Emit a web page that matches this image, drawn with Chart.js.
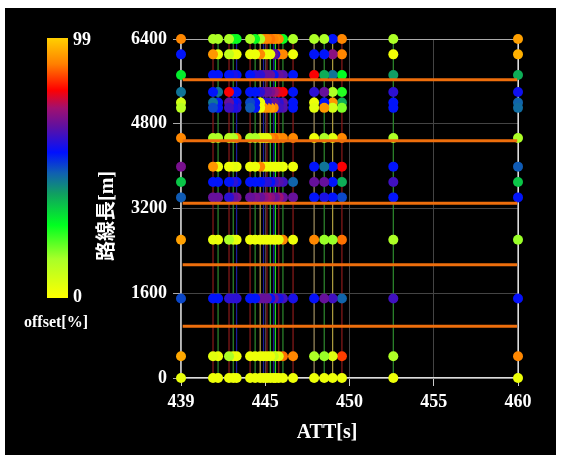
<!DOCTYPE html>
<html>
<head>
<meta charset="utf-8">
<script src="https://cdn.jsdelivr.net/npm/chart.js@4.4.1/dist/chart.umd.min.js"></script>
<style>
  html, body { margin: 0; padding: 0; background: #fff; }
  canvas { display: block; }
</style>
</head>
<body>
<canvas id="attChart" width="563" height="455"></canvas>
<script>
// ATT of each run (x), one vertical column per run
const attValues = [440.0, 441.9, 442.2, 442.85, 443.1, 443.3, 444.1, 444.4, 444.7, 444.9, 445.1,
  445.3, 445.5, 445.6, 445.8, 446.05, 446.65, 447.9, 448.5, 449.0, 449.55, 452.6, 460.0];
// route length of each measuring point (y)
const routeLengths = [6400, 6110, 5720, 5400, 5200, 5100, 4530, 3990, 3700, 3410, 2610, 1500, 410, 0];
// offset[%] per measuring point, one value per run
const off6400 = [90, 14, 14, 14, 27, 27, 14, 27, 14, 90, 90, 88, 90, 92, 90, 27, 14, 14, 14, 55, 90, 14, 93];
const off6110 = [55, 92, 3, 10, 3, 3, 3, 3, 90, 3, 3, 3, 66, 60, 90, 90, 3, 55, 55, 70, 90, 2, 95];
const off5720 = [30, 55, 55, 55, 58, 55, 55, 60, 60, 66, 66, 66, 55, 66, 66, 64, 55, 79, 38, 45, 28, 40, 38];
const off5400 = [45, 55, 45, 79, 55, 55, 55, 55, 60, 66, 66, 68, 72, 75, 78, 79, 55, 60, 66, 14, 25, 60, 57];
const off5200 = [8, 45, 55, 66, 55, 58, 50, 55, 3, 60, 60, 66, 66, 62, 60, 66, 55, 3, 55, 92, 38, 55, 47];
const off5100 = [12, 50, 55, 62, 58, 60, 48, 55, 3, 92, 92, 93, 90, 60, 62, 64, 55, 5, 92, 8, 18, 55, 46];
const off4530 = [90, 14, 14, 12, 14, 90, 14, 14, 5, 5, 5, 90, 88, 92, 90, 90, 90, 3, 14, 5, 90, 14, 14];
const off3990 = [68, 92, 3, 3, 5, 3, 3, 3, 90, 3, 3, 3, 3, 3, 5, 3, 3, 55, 45, 55, 79, 55, 48];
const off3700 = [35, 55, 55, 55, 60, 55, 55, 55, 55, 60, 60, 55, 62, 66, 64, 62, 47, 66, 66, 55, 38, 62, 35];
const off3410 = [48, 66, 66, 60, 66, 68, 66, 68, 66, 70, 72, 70, 66, 68, 72, 66, 66, 55, 58, 55, 50, 55, 55];
const off2610 = [93, 4, 3, 14, 5, 3, 3, 3, 3, 3, 3, 3, 3, 3, 5, 90, 3, 90, 16, 16, 88, 14, 16];
const off1500 = [50, 55, 55, 60, 60, 60, 55, 55, 66, 66, 66, 55, 66, 60, 58, 62, 58, 56, 66, 62, 47, 62, 56];
const off0410 = [94, 5, 3, 14, 3, 3, 3, 3, 3, 3, 3, 3, 10, 3, 5, 88, 90, 14, 16, 6, 84, 14, 90];
const off0000 = [4, 3, 3, 3, 3, 3, 3, 3, 3, 3, 3, 3, 3, 3, 3, 3, 3, 3, 3, 3, 3, 3, 3];
const offsetRows = [off6400, off6110, off5720, off5400, off5200, off5100, off4530,
  off3990, off3700, off3410, off2610, off1500, off0410, off0000];
// orange reference lines
const guideLengths = [5630, 4480, 3300, 2140, 975];
const guideStart = 440.1;
const guideEnd = 459.95;
const xTickLabels = ['439', '445', '450', '455', '460'];
const offsetMax = 99;

const lineColors = ['#bbbbbb', '#8b1a1a', '#2e8b2e', '#8b1a1a', '#2e8b2e', '#1a1a9b', '#8b1a1a', '#2e8b2e',
  '#b8a040', '#1a1a9b', '#8b1a1a', '#30c030', '#1a1a9b', '#20e020', '#8b1a1a', '#2e8b2e', '#8b1a1a',
  '#a09060', '#2e8b2e', '#b0a040', '#8b1a1a', '#2e8b2e', '#dddddd'];

// colour map, 0 = yellow ... 99 = yellow orange
const cmap = [[0, '#ffff00'], [0.15, '#a8ff28'], [0.28, '#00ff20'], [0.40, '#10a060'], [0.48, '#1060b0'],
  [0.56, '#0010ff'], [0.66, '#6010a0'], [0.73, '#a01070'], [0.80, '#ff0000'], [0.90, '#ff8000'], [1.0, '#ffd000']];

function hexRgb(h) {
  return [parseInt(h.substr(1, 2), 16), parseInt(h.substr(3, 2), 16), parseInt(h.substr(5, 2), 16)];
}
function offsetColor(v) {
  let t = Math.max(0, Math.min(1, v / offsetMax));
  for (let i = 1; i < cmap.length; i++) {
    if (t <= cmap[i][0]) {
      let a = cmap[i - 1], b = cmap[i];
      let f = (t - a[0]) / (b[0] - a[0]);
      let ca = hexRgb(a[1]), cb = hexRgb(b[1]);
      let c = ca.map((x, k) => Math.round(x + (cb[k] - x) * f));
      return 'rgb(' + c.join(',') + ')';
    }
  }
  return cmap[cmap.length - 1][1];
}

const datasets = [];
attValues.forEach((att, c) => {
  datasets.push({
    data: routeLengths.map(len => ({ x: att, y: len })),
    showLine: true,
    clip: false,
    borderColor: lineColors[c],
    borderWidth: 1.2,
    pointRadius: 5,
    pointHoverRadius: 5,
    pointBorderWidth: 0,
    pointBackgroundColor: offsetRows.map(row => offsetColor(row[c])),
    order: 2
  });
});
guideLengths.forEach(len => {
  datasets.push({
    data: [{ x: guideStart, y: len }, { x: guideEnd, y: len }],
    showLine: true,
    borderColor: '#ee6e0c',
    borderWidth: 3,
    pointRadius: 0,
    order: 1
  });
});

const tickFont = { family: "'Liberation Serif', serif", size: 18, weight: 'bold' };

const decor = {
  id: 'decor',
  beforeDraw(chart) {
    const ctx = chart.ctx;
    ctx.save();
    ctx.fillStyle = '#000';
    ctx.fillRect(5, 8, 551, 447);
    ctx.restore();
  },
  afterDraw(chart) {
    const ctx = chart.ctx;
    ctx.save();
    // colour bar
    const top = 38, bottom = 298;
    const grad = ctx.createLinearGradient(0, bottom, 0, top);
    cmap.forEach(s => grad.addColorStop(s[0], s[1]));
    ctx.fillStyle = grad;
    ctx.fillRect(47, top, 21, bottom - top);
    ctx.fillStyle = '#fff';
    ctx.font = "bold 18px 'Liberation Serif', serif";
    ctx.textAlign = 'left';
    ctx.textBaseline = 'middle';
    ctx.fillText(String(offsetMax), 73, top + 2);
    ctx.fillText('0', 73, bottom - 1);
    ctx.font = "bold 16px 'Liberation Serif', serif";
    ctx.textAlign = 'center';
    ctx.fillText('offset[%]', 56, 323);
    // axis titles
    ctx.font = "bold 20px 'Liberation Serif', 'Noto Sans CJK JP', serif";
    ctx.fillText('ATT[s]', 327, 433);
    ctx.translate(108, 216);
    ctx.rotate(-Math.PI / 2);
    ctx.fillText('路線長[m]', 0, 0);
    ctx.restore();
  }
};

new Chart(document.getElementById('attChart'), {
  type: 'scatter',
  data: { datasets: datasets },
  options: {
    responsive: false,
    animation: false,
    devicePixelRatio: 1,
    layout: { padding: { left: 90, right: 45, top: 39, bottom: 8 } },
    plugins: { legend: { display: false }, tooltip: { enabled: false } },
    scales: {
      x: {
        type: 'linear',
        min: 440,
        max: 460,
        afterFit: s => { s.height = 69; },
        ticks: {
          stepSize: 5,
          color: '#fff',
          font: tickFont,
          padding: 6,
          maxRotation: 0,
          callback: (v, i) => xTickLabels[i]
        },
        grid: {
          color: ctx => (ctx.tick && ctx.tick.value === 460) ? '#dddddd' : '#444444',
          tickColor: '#cccccc',
          tickLength: 8,
          lineWidth: 1
        },
        border: { color: '#dddddd', width: 1.5 }
      },
      y: {
        type: 'linear',
        min: 0,
        max: 6400,
        afterFit: s => { s.width = 91; },
        ticks: {
          stepSize: 1600,
          color: '#fff',
          font: tickFont,
          padding: 6,
          callback: v => String(v)
        },
        grid: {
          color: ctx => (ctx.tick && ctx.tick.value === 6400) ? '#aaaaaa' : '#444444',
          tickColor: '#aaaaaa',
          tickLength: 8,
          lineWidth: 1
        },
        border: { color: '#bbbbbb', width: 1.5 }
      }
    }
  },
  plugins: [decor]
});
</script>
</body>
</html>
